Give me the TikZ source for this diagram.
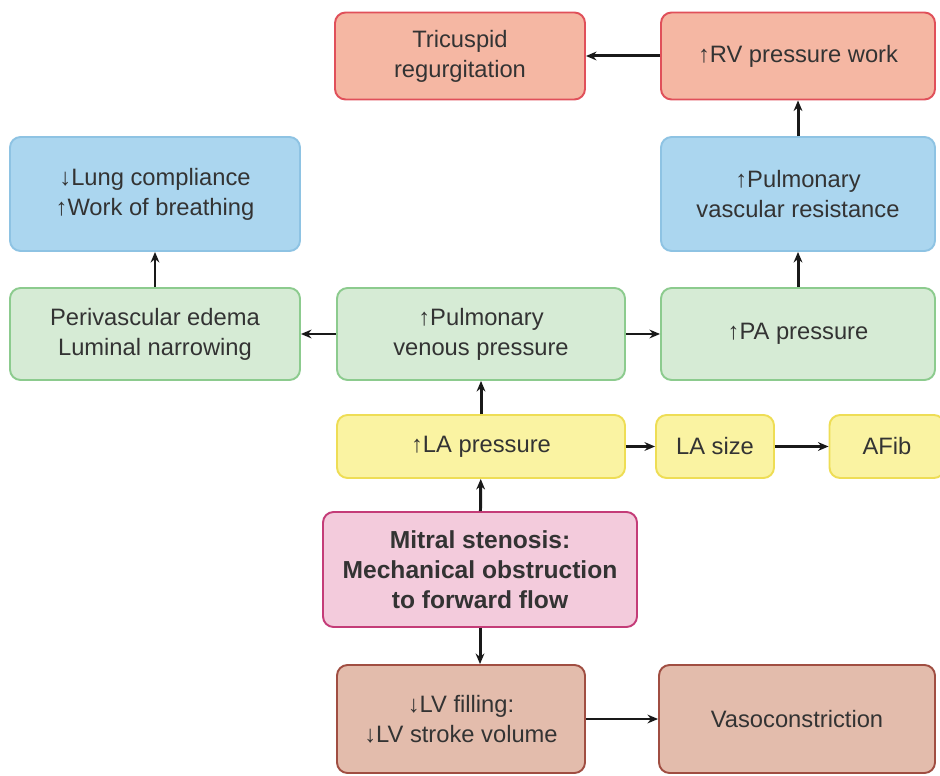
\documentclass[tikz,border=0pt]{standalone}
\usepackage{fontspec}
\setmainfont{Liberation Sans}
\usepackage{tikz}
\usetikzlibrary{arrows.meta, positioning, calc}
\usepackage{xcolor}

\definecolor{redfill}{HTML}{F5B7A3}
\definecolor{reddraw}{HTML}{E0505A}
\definecolor{bluefill}{HTML}{ABD6EF}
\definecolor{bluedraw}{HTML}{8EC3E3}
\definecolor{greenfill}{HTML}{D6EBD5}
\definecolor{greendraw}{HTML}{8CCB8E}
\definecolor{yellowfill}{HTML}{FAF3A2}
\definecolor{yellowdraw}{HTML}{EEDD55}
\definecolor{pinkfill}{HTML}{F3CBDC}
\definecolor{pinkdraw}{HTML}{C43C78}
\definecolor{brownfill}{HTML}{E3BCAC}
\definecolor{browndraw}{HTML}{A04E42}

\begin{document}
\begin{tikzpicture}[
        box/.style={rectangle, rounded corners=6pt, line width=1.1pt, align=center,
            inner sep=0pt, font=\fontsize{13.5}{17}\selectfont, text=black!80},
        redbox/.style={box, draw=reddraw, fill=redfill},
        bluebox/.style={box, draw=bluedraw, fill=bluefill},
        greenbox/.style={box, draw=greendraw, fill=greenfill},
        yellowbox/.style={box, draw=yellowdraw, fill=yellowfill},
        pinkbox/.style={box, draw=pinkdraw, fill=pinkfill},
        brownbox/.style={box, draw=browndraw, fill=brownfill},
        flow/.style={-{Stealth[length=6pt, width=5pt]}, line width=1.7pt, draw=black!90}
    ]
        \useasboundingbox (0,0) rectangle (18.8,15.5);

        % ================= NODES =================

        % Top row
        \node[redbox, minimum width=5.0cm, minimum height=1.74cm] (tricus) at (9.2, 14.38) {Tricuspid\\regurgitation};
        \node[redbox, minimum width=5.48cm, minimum height=1.74cm] (rvwork) at (15.96, 14.38) {↑RV pressure work};

        % Lungs and pulmonary vessels
        \node[bluebox, minimum width=5.8cm, minimum height=2.28cm] (lung) at (3.1, 11.62) {↓Lung compliance\\↑Work of breathing};
        \node[bluebox, minimum width=5.48cm, minimum height=2.28cm] (pvr) at (15.96, 11.62) {↑Pulmonary\\vascular resistance};

        \node[greenbox, minimum width=5.8cm, minimum height=1.84cm] (edema) at (3.1, 8.82) {Perivascular edema\\Luminal narrowing};
        \node[greenbox, minimum width=5.76cm, minimum height=1.84cm] (pvp) at (9.62, 8.82) {↑Pulmonary\\venous pressure};
        \node[greenbox, minimum width=5.48cm, minimum height=1.84cm] (pap) at (15.96, 8.82) {↑PA pressure};

        % Left atrium
        \node[yellowbox, minimum width=5.76cm, minimum height=1.26cm] (lap) at (9.62, 6.57) {↑LA pressure};
        \node[yellowbox, minimum width=2.36cm, minimum height=1.26cm] (lasize) at (14.3, 6.57) {LA size};
        \node[yellowbox, minimum width=2.3cm, minimum height=1.26cm] (afib) at (17.74, 6.57) {AFib};

        % Cause
        \node[pinkbox, minimum width=6.28cm, minimum height=2.3cm, font=\fontsize{14}{17}\selectfont\bfseries] (ms) at (9.6, 4.11) {Mitral stenosis:\\Mechanical obstruction\\to forward flow};

        % Left ventricle
        \node[brownbox, minimum width=4.96cm, minimum height=2.16cm] (lv) at (9.22, 1.12) {↓LV filling:\\↓LV stroke volume};
        \node[brownbox, minimum width=5.52cm, minimum height=2.16cm] (vaso) at (15.94, 1.12) {Vasoconstriction};

        % ================= ARROWS =================

        \draw[flow] (ms) -- (lap);
        \draw[flow] (ms.south) -- (ms.south |- lv.north);
        \draw[flow] (lv) -- (vaso);

        \draw[flow] (lap) -- (pvp);
        \draw[flow] (lap) -- (lasize);
        \draw[flow] (lasize) -- (afib);

        \draw[flow] (pvp) -- (edema);
        \draw[flow] (pvp) -- (pap);
        \draw[flow] (edema) -- (lung);

        \draw[flow] (pap) -- (pvr);
        \draw[flow] (pvr) -- (rvwork);
        \draw[flow] (rvwork) -- (tricus);

    \end{tikzpicture}
\end{document}
